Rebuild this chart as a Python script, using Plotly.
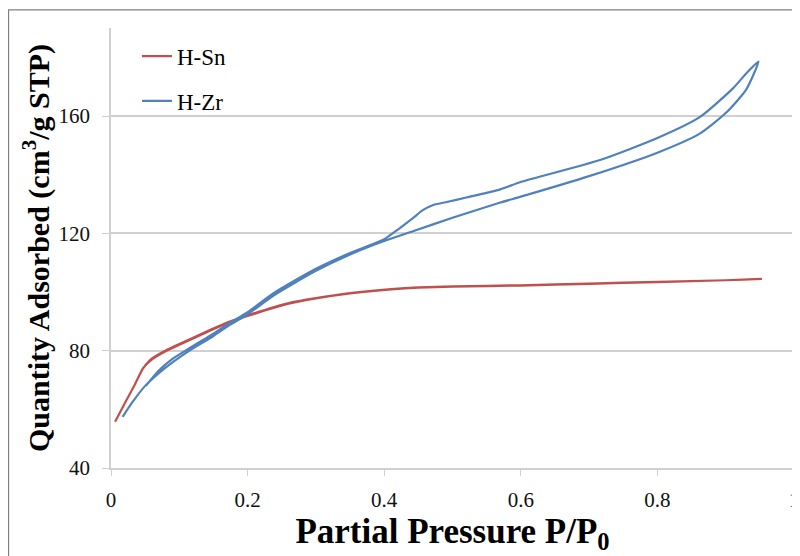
import plotly.graph_objects as go

# H-Sn isotherm (adsorption then desorption)
sn_p = [0.006, 0.02, 0.035, 0.047, 0.06, 0.08, 0.10, 0.14, 0.174, 0.20, 0.26, 0.30, 0.35, 0.41, 0.45, 0.50, 0.60, 0.70, 0.80, 0.90, 0.953,
        0.90, 0.80, 0.70, 0.60, 0.50, 0.45, 0.41, 0.35, 0.30, 0.26, 0.20, 0.174, 0.14, 0.10, 0.08, 0.06, 0.05]
sn_q = [55.8, 62.0, 68.5, 74.0, 77.0, 79.8, 82.0, 86.3, 89.7, 91.8, 96.0, 97.8, 99.5, 100.9, 101.5, 101.8, 102.2, 102.8, 103.4, 104.0, 104.5,
        104.0, 103.5, 102.9, 102.3, 101.9, 101.6, 101.0, 99.6, 97.9, 96.2, 92.0, 89.9, 86.5, 82.3, 80.1, 77.4, 75.0]

# H-Zr isotherm (adsorption then desorption)
zr_p = [0.017, 0.03, 0.05, 0.07, 0.09, 0.116, 0.15, 0.174, 0.20, 0.238, 0.30, 0.35, 0.40, 0.442, 0.50, 0.57, 0.60, 0.70, 0.80, 0.862, 0.90, 0.93, 0.948,
        0.93, 0.911, 0.862, 0.80, 0.716, 0.60, 0.57, 0.52, 0.49, 0.471, 0.457, 0.442, 0.42, 0.40, 0.35, 0.30, 0.238, 0.20, 0.174, 0.15, 0.116, 0.09, 0.07, 0.051]
zr_q = [57.4, 62.0, 68.0, 72.3, 76.0, 80.2, 85.0, 88.8, 92.4, 98.8, 107.2, 112.8, 117.4, 120.7, 125.3, 130.5, 132.5, 139.5, 147.5, 154.0, 161.0, 169.0, 178.6,
        174.5, 169.5, 159.6, 152.5, 145.0, 137.5, 135.0, 132.2, 130.6, 129.6, 128.0, 125.2, 121.3, 118.0, 113.3, 107.9, 99.6, 93.1, 89.5, 85.8, 81.0, 77.2, 73.2, 68.0]

x_ticks = [0, 0.2, 0.4, 0.6, 0.8, 1]
x_tick_text = ["0", "0.2", "0.4", "0.6", "0.8", "1"]
y_ticks = [40, 80, 120, 160]

serif = "Liberation Serif, Times New Roman, serif"

fig = go.Figure()
fig.add_trace(go.Scatter(x=sn_p, y=sn_q, mode="lines", name="H-Sn", legendgroup="a",
                         line=dict(color="#C0504D", width=2.2, shape="spline", smoothing=0.5)))
fig.add_trace(go.Scatter(x=zr_p, y=zr_q, mode="lines", name="H-Zr", legendgroup="b",
                         line=dict(color="#4F81BD", width=2.2, shape="spline", smoothing=0.6)))

fig.update_layout(
    width=800, height=556,
    margin=dict(l=103, r=14, t=20, b=96, autoexpand=False),
    paper_bgcolor="white", plot_bgcolor="white",
    font=dict(family=serif, color="#000000"),
    showlegend=True,
    legend=dict(x=0.038, y=0.985, xanchor="left", yanchor="top",
                font=dict(family=serif, size=23, color="#000000"),
                bgcolor="rgba(0,0,0,0)", traceorder="grouped", tracegroupgap=12),
    xaxis=dict(range=[0, 1], tickvals=x_ticks, ticktext=x_tick_text, automargin=False,
               showgrid=False, zeroline=False,
               showline=True, linecolor="#D0D0D0", linewidth=1.5,
               ticks="outside", ticklen=6, tickcolor="#D0D0D0", ticklabelstandoff=6,
               tickfont=dict(family=serif, size=21, color="#111111"),
               title=dict(text="<b>Partial Pressure P/P<sub>0</sub></b>",
                          font=dict(family=serif, size=35, color="#000000"), standoff=6)),
    yaxis=dict(range=[40, 190], tickvals=y_ticks, automargin=False,
               showgrid=True, gridcolor="#D0D0D0", gridwidth=1.5, zeroline=False,
               showline=True, linecolor="#D0D0D0", linewidth=1.5,
               ticks="outside", ticklen=7, tickcolor="#D0D0D0", ticklabelstandoff=8,
               tickfont=dict(family=serif, size=21, color="#111111"),
               title=dict(text="<b>Quantity Adsorbed (cm<sup>3</sup>/g STP)</b>",
                          font=dict(family=serif, size=30, color="#000000"), standoff=0)),
    shapes=[dict(type="rect", xref="paper", yref="paper",
                 x0=-0.150, x1=1.2, y0=-0.4, y1=1.041,
                 line=dict(color="#808080", width=1.2), layer="below")],
)

fig.write_html("out.html")
